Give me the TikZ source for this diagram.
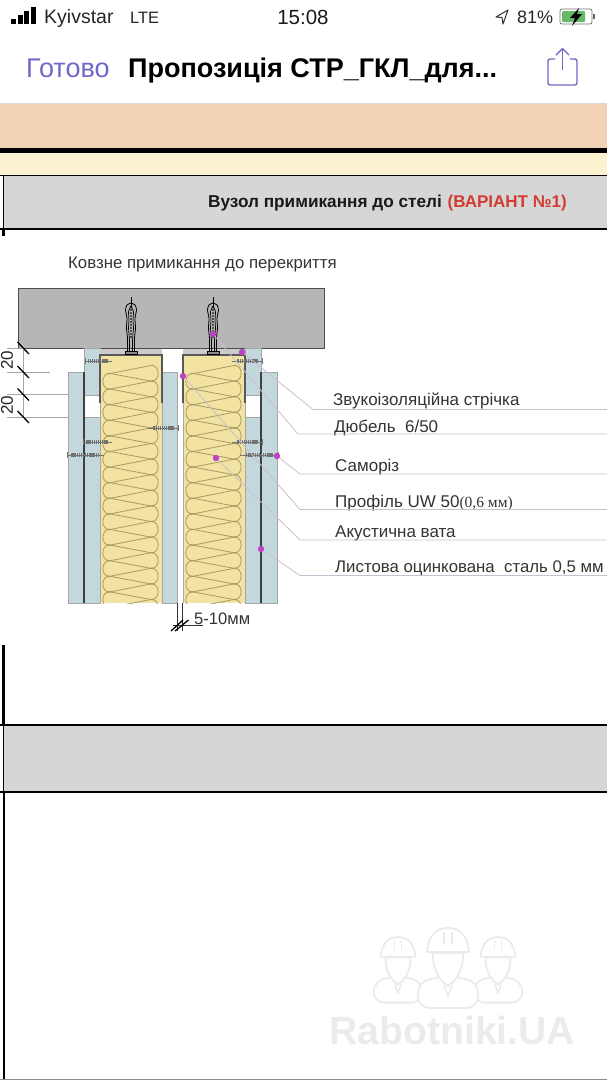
\documentclass[tikz,border=0pt]{standalone}
\usepackage{fontspec}
\setmainfont{Liberation Sans}
\newfontfamily\timesfont{Liberation Serif}
\usetikzlibrary{calc}
\definecolor{iosblue}{HTML}{7068C8}
\definecolor{peach}{HTML}{F2D3B6}
\definecolor{cream}{HTML}{FBF2CF}
\definecolor{rowgray}{HTML}{D6D6D6}
\definecolor{slabgray}{HTML}{B6B6B6}
\definecolor{boardblue}{HTML}{C3D8DC}
\definecolor{woolyellow}{HTML}{F2E3A2}
\definecolor{woolbrown}{HTML}{A89A62}
\definecolor{leadergray}{HTML}{C9BFD0}
\definecolor{dotpink}{HTML}{C040C8}
\definecolor{redtext}{HTML}{D23C32}
\definecolor{markgray}{HTML}{EBEBEB}
\tikzset{
  label/.style={inner sep=0, anchor=base west, font=\fontsize{17}{18}\selectfont, text=black!80},
  board/.style={fill=boardblue, draw=black!35, line width=0.5pt},
  steel/.style={draw=black!75, line width=2.6pt},
  profile/.style={draw=black!65, line width=1.2pt},
  woolline/.style={draw=woolbrown, line width=0.8pt},
  dimline/.style={draw=black!35, line width=0.5pt},
  tick/.style={draw=black, line width=1.3pt},
  leader/.style={draw=leadergray, line width=0.8pt},
  dotmark/.style={circle, fill=dotpink, inner sep=0, minimum size=6pt},
  tabline/.style={draw=black, line width=1.3pt},
  helmet/.style={draw=markgray, fill=white, line width=1.8pt, line join=round}
}
\begin{document}
\begin{tikzpicture}[x=1pt, y=-1pt]
\useasboundingbox (0,0) rectangle (607,1080);

%//status bar and title
\foreach \x/\y in {11/19,17.6/15,24.2/11,31/7}
\fill[black] (\x,\y) rectangle (\x+5,24);
\node [inner sep=0, anchor=base west, font=\fontsize{19.5}{20}\selectfont, text=black!85] (carrier) at (44,23) {Kyivstar};
\node [inner sep=0, anchor=base west, font=\fontsize{16.5}{18}\selectfont, text=black!85] (network) at (130,23) {LTE};
\node [inner sep=0, anchor=base, font=\fontsize{20.5}{22}\selectfont, text=black!90] (clock) at (303,24) {15:08};
\draw [black!80, line width=1pt, line join=round] (508,10) -- (496,17) -- (502,17.5) -- (503,24) -- cycle;
\node [inner sep=0, anchor=base west, font=\fontsize{18}{20}\selectfont, text=black!85] (percent) at (517,23.5) {81\%};
\draw [black!55, line width=0.8pt, rounded corners=2pt] (560,9) rectangle (592,24);
\fill [green!55!black!60!white, rounded corners=1pt] (562,11) rectangle (585,22);
\fill [black!60] (593,14) rectangle (594.5,19);
\fill [black] (579,8) -- (570,18) -- (575,18) -- (572,26) -- (582,14) -- (577,14) -- cycle;

\node [inner sep=0, anchor=base west, font=\fontsize{27}{28}\selectfont, text=iosblue] (backbtn) at (26,77.5) {Готово};
\node [inner sep=0, anchor=base west, font=\fontsize{27}{28}\selectfont\bfseries, text=black] (doctitle) at (128,77.5) {Пропозиція СТР\_ГКЛ\_для...};
\draw [iosblue, line width=1.4pt, rounded corners=2pt] (555,59) -- (548,59) -- (548,85) -- (577,85) -- (577,59) -- (570,59);
\draw [iosblue, line width=1.4pt] (562.5,70) -- (562.5,49);
\draw [iosblue, line width=1.4pt, line join=round] (556,55) -- (562.5,48.5) -- (569,55);

%//table rows
\draw [black!15, line width=1pt] (0,103.5) -- (607,103.5);
\fill [peach] (0,104) rectangle (607,148);
\fill [black] (0,148) rectangle (607,152.5);
\fill [cream] (0,152.5) rectangle (607,175);
\fill [rowgray] (4,175) rectangle (607,229);
\draw [black, line width=0.9pt] (0,175) -- (607,175);
\draw [tabline] (0,229) -- (607,229);
\draw [black, line width=1pt] (3.5,175) -- (3.5,229);
\draw [black, line width=2.5pt] (3.5,229) -- (3.5,236);
\node [inner sep=0, anchor=base west, font=\fontsize{17.2}{18}\selectfont\bfseries, text=black!90] (rowhead) at (208,207) {Вузол примикання до стелі};
\node [inner sep=0, anchor=base west, font=\fontsize{17}{18}\selectfont\bfseries, text=redtext] (rowvariant) at (447.5,207) {(ВАРІАНТ №1)};

\fill [rowgray] (4,725) rectangle (607,792);
\draw [tabline] (0,725) -- (607,725);
\draw [tabline] (0,792) -- (607,792);
\draw [black, line width=3pt] (3.5,645) -- (3.5,725);
\draw [black, line width=1pt] (3.5,725) -- (3.5,792);
\draw [black, line width=2pt] (3.5,792) -- (3.5,1080);
\draw [black!45, line width=1pt] (0,1079.5) -- (607,1079.5);

%//detail
\node [label, font=\fontsize{16.8}{18}\selectfont] (detailtitle) at (68,268.5) {Ковзне примикання до перекриття};

\draw [fill=slabgray, draw=black!70, line width=0.9pt] (18,288) rectangle (324,348);
\foreach \x/\y in {66/316, 83/292, 193/327, 262/333, 298/306}
\draw [black!28, line width=0.4pt] (\x,\y+3) -- (\x+3,\y-3) -- (\x+6,\y+3) -- cycle;

%//boards
\foreach \x/\w in {84.5/15.5,245/16}{
\draw [board] (\x,348) rectangle (\x+\w,395);
\draw [board] (\x,417) rectangle (\x+\w,603);
}
\draw [board] (68,372) rectangle (84,603);
\draw [board] (162,372) rectangle (177,603);
\draw [board] (261,372) rectangle (277,603);
\draw [steel] (84,372) -- (84,603);
\draw [steel] (261,372) -- (261,603);

%//studs with wool
\foreach \xstep in {0,83}{
\fill [black!20] (\xstep+100,349) rectangle (\xstep+162,354);
\fill [woolyellow] (\xstep+100,355) rectangle (\xstep+162,603);
\begin{scope}
\clip (\xstep+100,355) rectangle (\xstep+162,603);
\foreach \k in {0,...,15}{
\pgfmathsetmacro\yl{373.5+15.6*\k}
\pgfmathsetmacro\yr{365.5+15.6*\k}
\draw [woolline] (\xstep+110,\yl) .. controls (\xstep+100.5,\yl-1) and (\xstep+100.5,\yl+16.6) .. (\xstep+110,\yl+15.6);
\draw [woolline] (\xstep+151,\yr) .. controls (\xstep+160.5,\yr-1) and (\xstep+160.5,\yr+16.6) .. (\xstep+151,\yr+15.6);
\draw [woolline] (\xstep+108,\yl+0.4) -- (\xstep+153,\yr-0.4);
\draw [woolline] (\xstep+108,\yl-0.4) -- (\xstep+153,\yr+15.6+0.4);
}
\end{scope}
\draw [profile] (\xstep+100,403) -- (\xstep+100,355) -- (\xstep+162,355) -- (\xstep+162,403);
\draw [black!35, line width=0.5pt] (\xstep+100,403) -- (\xstep+100,603) (\xstep+162,403) -- (\xstep+162,603);
}

%//anchors
\foreach \x in {131,213}{
\draw [black, line width=1pt] (\x,297) -- (\x,306);
\draw [black!70, line width=2pt, densely dotted] (\x,306) -- (\x,338);
\foreach \s in {-1,1}{
\draw [black, line width=0.8pt] plot [smooth] coordinates {(\x,303) (\x+\s*4,305) (\x+\s*5.5,310) (\x+\s*4,318) (\x+\s*4.5,328) (\x+\s*3.5,338) (\x+\s*3.5,352)};
\draw [black, line width=0.7pt] plot [smooth] coordinates {(\x,306) (\x+\s*2.5,312) (\x+\s*2,320) (\x+\s*2.5,328) (\x+\s*1.5,340) (\x+\s*1.5,352)};
}
\draw [fill=black!45, draw=black, line width=0.6pt] (\x-6,351.5) rectangle (\x+6,354.5);
}

%//screws
\foreach \xa/\xb/\y in {85/112/361, 262/232/361, 178/148/428, 83/112/442, 262/232/442, 67/104/455, 278/240/455}{
\draw [black!55, line width=0.7pt] (\xa,\y) -- (\xb,\y);
\draw [black!55, line width=3.6pt, dash pattern=on 1.2pt off 0.7pt] ($(\xa,\y)!0.12!(\xb,\y)$) -- ($(\xa,\y)!0.85!(\xb,\y)$);
\draw [black!55, line width=0.7pt] (\xa,\y-3) -- (\xa,\y+3);
}

%//dimensions at the left
\draw [dimline] (7,348) -- (24,348);
\draw [dimline] (7,372) -- (50,372);
\draw [dimline] (7,394.5) -- (68,394.5);
\draw [dimline] (7,417) -- (68,417);
\draw [dimline] (23,348) -- (23,417);
\foreach \y in {348,372,394.5,417}
\draw [tick] (17.5,\y-6) -- (29,\y+6);
\node [inner sep=0, rotate=90, font=\fontsize{17}{18}\selectfont, text=black!85] (dimupper) at (7,360) {20};
\node [inner sep=0, rotate=90, font=\fontsize{17}{18}\selectfont, text=black!85] (dimlower) at (7,405) {20};

%//gap dimension
\draw [black!80, line width=0.6pt] (177,603) -- (177,631);
\draw [black!80, line width=0.6pt] (182.5,603) -- (182.5,631);
\draw [black!80, line width=0.6pt] (173,625) -- (203,625);
\draw [tick] (171,631) -- (183,620);
\draw [tick] (175,631) -- (188.5,620);
\node [inner sep=0, anchor=base west, font=\fontsize{16.6}{18}\selectfont, text=black!80] (gapsize) at (194,624.5) {5-10мм};

%//labels
\node [label] (lbltape) at (333,405.5) {Звукоізоляційна стрічка};
\node [label] (lbldowel) at (334,432.5) {Дюбель~~6/50};
\node [label] (lblscrew) at (335,471) {Саморіз};
\node [label] (lblprofile) at (335,507.5) {Профіль UW 50{\timesfont\fontsize{15.5}{16}\selectfont(0,6 мм)}};
\node [label] (lblwool) at (335,537.5) {Акустична вата};
\node [label, font=\fontsize{16.8}{18}\selectfont] (lblsheet) at (335,572) {Листова оцинкована~~сталь 0,5 мм};

%//leaders
\foreach \n/\dx/\dy/\kx/\ky in {tape/242/352/313/409.5, dowel/213/334/298/434, screw/277/456/300/474, profile/183/376/300/509.5, wool/216/458/300/540, sheet/261/549/300/575.5}{
\node [dotmark] (dot\n) at (\dx,\dy) {};
\coordinate (knee\n) at (\kx,\ky);
\coordinate (end\n) at (607,\ky);
\draw [leader] (dot\n.center) -- (knee\n) -- (end\n);
\node [dotmark] at (dot\n) {};
}

%//watermark
\foreach \x/\ytop/\s in {398/937/0.82, 498/937/0.82, 448/928/1}{
\draw [helmet, rounded corners=11pt] (\x-\s*30,\ytop+\s*80) -- (\x-\s*30,\ytop+\s*54) -- (\x,\ytop+\s*47) -- (\x+\s*30,\ytop+\s*54) -- (\x+\s*30,\ytop+\s*80) -- cycle;
\draw [helmet] (\x-\s*15,\ytop+\s*25) .. controls (\x-\s*16,\ytop+\s*42) and (\x-\s*7,\ytop+\s*54) .. (\x,\ytop+\s*58) .. controls (\x+\s*7,\ytop+\s*54) and (\x+\s*16,\ytop+\s*42) .. (\x+\s*15,\ytop+\s*25) -- cycle;
\draw [markgray, line width=1.5pt] (\x-\s*4,\ytop+\s*58) -- (\x,\ytop+\s*68) -- (\x+\s*4,\ytop+\s*58);
\draw [helmet] (\x-\s*21,\ytop+\s*24) .. controls (\x-\s*20,\ytop+\s*4) and (\x-\s*8,\ytop) .. (\x,\ytop) .. controls (\x+\s*8,\ytop) and (\x+\s*20,\ytop+\s*4) .. (\x+\s*21,\ytop+\s*24) -- cycle;
\draw [markgray, line width=1.2pt] (\x-\s*4,\ytop+\s*4) -- (\x-\s*4,\ytop+\s*16) (\x+\s*4,\ytop+\s*4) -- (\x+\s*4,\ytop+\s*16);
}
\node [inner sep=0, anchor=base west, font=\fontsize{39.2}{40}\selectfont\bfseries, text=markgray] (marktext) at (329,1044) {Rabotniki.UA};
\end{tikzpicture}
\end{document}
